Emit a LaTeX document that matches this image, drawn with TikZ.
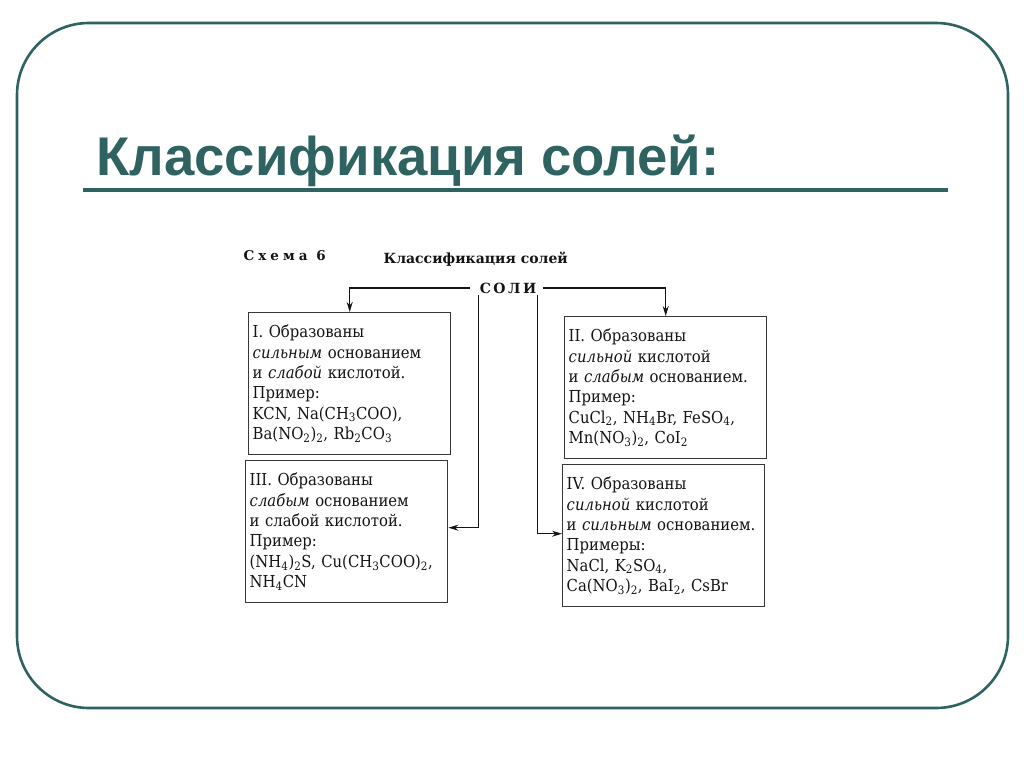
\documentclass[tikz,border=0pt]{standalone}
\usepackage{fontspec}
\setmainfont{DejaVu Serif}
\newfontfamily\titlefont{Liberation Sans}
\newfontfamily\scanfont[FakeStretch=0.9]{DejaVu Serif}
\usetikzlibrary{arrows.meta}
\definecolor{slideteal}{RGB}{46,99,97}
\definecolor{scanink}{RGB}{20,20,20}
\newcommand{\low}[1]{\textsubscript{#1}}

\begin{document}
\begin{tikzpicture}[
	x=1pt, y=-1pt,
	frame/.style={draw=slideteal, line width=2.6pt, rounded corners=72pt},
	rule/.style={draw=slideteal, line width=4pt},
	saltbox/.style={
		draw=scanink!85, line width=1.4pt, anchor=north west,
		text width=194pt, inner xsep=4pt, minimum height=142pt,
		align=left, text=scanink, font=\scanfont\fontsize{16.5}{20.4}\selectfont
	},
	arr/.style={-{Stealth[length=10pt,width=6pt]}, draw=scanink, line width=1.3pt},
	line/.style={draw=scanink, line width=1.3pt}
]
\useasboundingbox (0,0) rectangle (1024,767);

% slide frame and heading
\draw[frame] (17,23) rectangle (1008,708);
\node[anchor=base west, text=slideteal, font=\titlefont\bfseries\fontsize{54.5}{60}\selectfont]
	(title) at (93,176) {Классификация солей:};
\draw[rule] (83,190) -- (948,190);

% scheme captions
\node[anchor=base west, text=scanink, font=\bfseries\fontsize{13.5}{16}\selectfont\addfontfeatures{LetterSpace=30}]
	(scheme) at (240,260) {Схема 6};
\node[anchor=base west, text=scanink, font=\bfseries\fontsize{14}{16}\selectfont]
	(caption) at (380,263) {Классификация солей};
\node[anchor=base, text=scanink, inner xsep=1pt, font=\bfseries\fontsize{14}{16}\selectfont\addfontfeatures{LetterSpace=18}]
	(soli) at (508,293) {СОЛИ};

% boxes
\node[saltbox] (boxI) at (248,312) {I. Образованы\\
	\textit{сильным} основанием\\
	и \textit{слабой} кислотой.\\
	Пример:\\
	KCN, Na(CH\low{3}COO),\\
	Ba(NO\low{2})\low{2}, Rb\low{2}CO\low{3}};
\node[saltbox] (boxII) at (564,316) {II. Образованы\\
	\textit{сильной} кислотой\\
	и \textit{слабым} основанием.\\
	Пример:\\
	CuCl\low{2}, NH\low{4}Br, FeSO\low{4},\\
	Mn(NO\low{3})\low{2}, CoI\low{2}};
\node[saltbox] (boxIII) at (245,460) {III. Образованы\\
	\textit{слабым} основанием\\
	и слабой кислотой.\\
	Пример:\\
	(NH\low{4})\low{2}S, Cu(CH\low{3}COO)\low{2},\\
	NH\low{4}CN};
\node[saltbox] (boxIV) at (562,464) {IV. Образованы\\
	\textit{сильной} кислотой\\
	и \textit{сильным} основанием.\\
	Примеры:\\
	NaCl, K\low{2}SO\low{4},\\
	Ca(NO\low{3})\low{2}, BaI\low{2}, CsBr};

% connectors
\draw[arr] ([xshift=-9pt]soli.west) -| (boxI.north);
\draw[arr] ([xshift=6pt]soli.east) -| (boxII.north);
\draw[arr] ([yshift=2pt]soli.south west) |- ([yshift=4pt]boxIII.east);
\draw[arr] ([yshift=2pt]soli.south east) |- ([yshift=2pt]boxIV.west);

\end{tikzpicture}
\end{document}
